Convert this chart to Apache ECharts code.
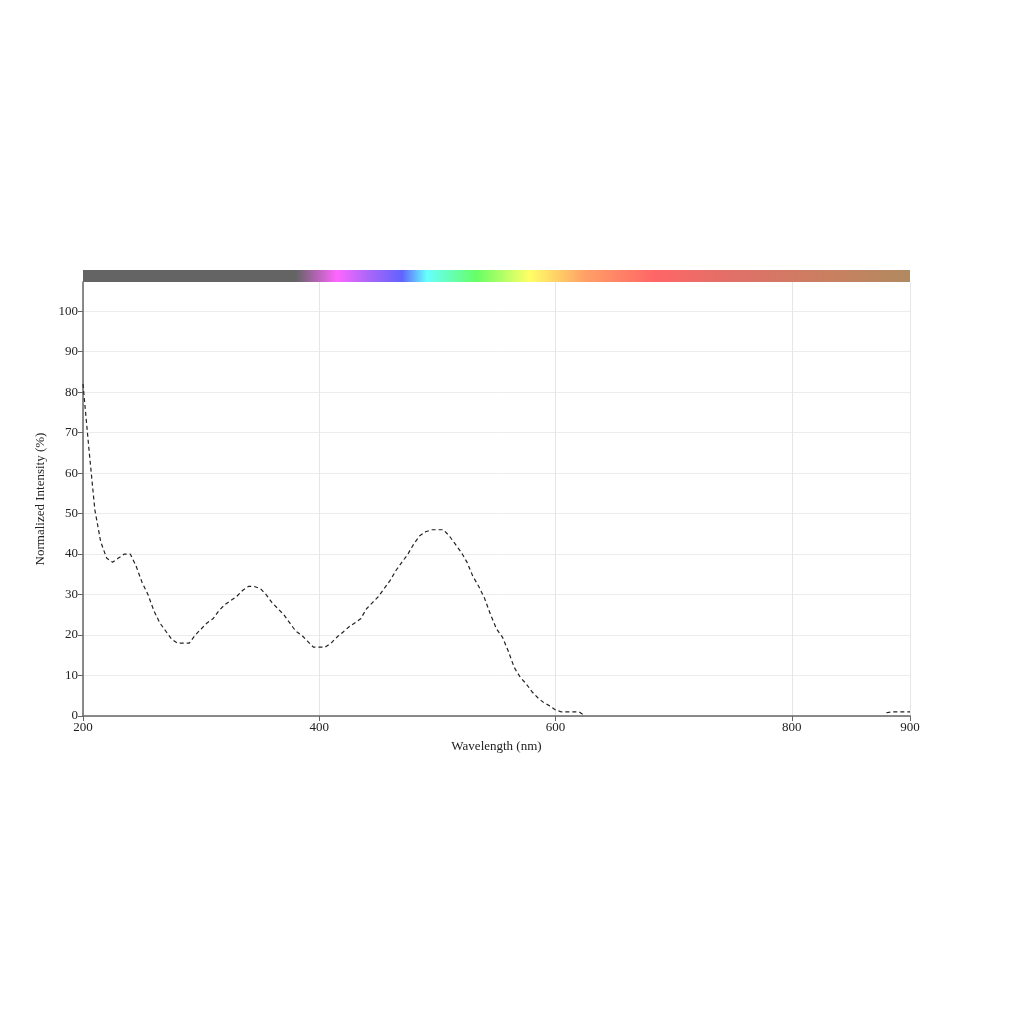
<!DOCTYPE html>
<html>
<head>
<meta charset="utf-8">
<script src="https://cdn.jsdelivr.net/npm/echarts@6/dist/echarts.min.js"></script>
<style>
html,body{margin:0;padding:0;background:#fff;}
#chart{width:1024px;height:1024px;}
</style>
</head>
<body>
<div id="chart"></div>
<script>
// Wavelength (nm) sampling
var wavelengths = [];
for (var w = 200; w <= 900; w += 5) wavelengths.push(w);

// Normalized intensity values (%), 200..625 nm every 5 nm
var intensityStart = [82, 66, 51, 43, 39, 38, 39, 40, 40, 37,
  33, 30, 26, 23, 21, 19, 18, 18, 18, 20,
  21.5, 23, 24, 26, 27.5, 28.5, 29.5, 31, 32, 32,
  31.5, 30, 28, 26.5, 25, 23, 21, 20, 18.5, 17,
  17, 17, 18, 19.5, 20.7, 22, 23, 24, 26.5, 28,
  29.5, 31.5, 33.5, 36, 38, 40, 42.5, 44.5, 45.5, 46,
  46, 46, 44.5, 42.5, 40.5, 38, 34.5, 32, 29, 25,
  21.5, 19.5, 16, 12, 9.6, 8, 6, 4.5, 3.3, 2.5,
  1.5, 1, 1, 1, 1, 0];
// 880..900 nm tail
var tailStartNm = 880;
var intensityTail = [0.8, 1, 1, 1, 1];

// Spectrum colour bar stops
var spectrumNm = [200, 380, 415, 440, 470, 491, 533, 578, 625, 683, 750, 835, 900];
var spectrumColors = ['#646464', '#646464', '#ff66ff', '#b066f8', '#6262ff', '#66ffff',
  '#66ff66', '#ffff66', '#ffa066', '#ff6666', '#e07068', '#c88060', '#b08a60'];

var xTicks = [200, 400, 600, 800, 900];

// build series data
var seriesData = [];
for (var i = 0; i < wavelengths.length; i++) {
  var nm = wavelengths[i];
  var v = null;
  if (i < intensityStart.length) v = intensityStart[i];
  else if (nm >= tailStartNm) v = intensityTail[(nm - tailStartNm) / 5];
  seriesData.push([nm, v]);
}

var stops = spectrumNm.map(function (nm, k) {
  return { offset: (nm - 200) / 700, color: spectrumColors[k] };
});

var font = 'Liberation Serif';
var chart = echarts.init(document.getElementById('chart'), null, { renderer: 'canvas' });
chart.setOption({
  backgroundColor: '#fff',
  animation: false,
  grid: [
    { left: 83, right: 114, top: 282, bottom: 308 },
    { left: 83, right: 114, top: 270, height: 12 }
  ],
  xAxis: [{
    type: 'value', gridIndex: 0, min: 200, max: 900, interval: 200,
    name: 'Wavelength (nm)', nameLocation: 'middle', nameGap: 24,
    nameTextStyle: { fontFamily: font, fontSize: 13, color: '#222' },
    axisLine: { lineStyle: { color: '#666', width: 1.5 } },
    axisTick: { show: true, length: 5, lineStyle: { color: '#666' } },
    axisLabel: { fontFamily: font, fontSize: 13, color: '#222', margin: 5,
      formatter: function (v) { return xTicks.indexOf(v) >= 0 ? String(v) : ''; } },
    splitLine: { show: true, lineStyle: { color: '#e6e6e6' } }
  }, {
    type: 'value', gridIndex: 1, min: 200, max: 900, show: false
  }],
  yAxis: [{
    type: 'value', gridIndex: 0, min: 0, max: 107.2, interval: 10,
    name: 'Normalized Intensity (%)', nameLocation: 'middle', nameGap: 36,
    nameTextStyle: { fontFamily: font, fontSize: 13, color: '#222' },
    axisLine: { show: true, lineStyle: { color: '#666', width: 1.5 } },
    axisTick: { show: true, length: 5, lineStyle: { color: '#666' },
      customValues: [0,10,20,30,40,50,60,70,80,90,100] },
    axisLabel: { fontFamily: font, fontSize: 13, color: '#222', margin: 5,
      formatter: function (v) { return (v % 10 === 0 && v <= 100) ? String(v) : ''; } },
    splitLine: { show: true, lineStyle: { color: '#ececec' } }
  }, {
    type: 'value', gridIndex: 1, min: 0, max: 1, show: false
  }],
  series: [{
    type: 'line', xAxisIndex: 0, yAxisIndex: 0,
    data: seriesData, showSymbol: false, connectNulls: false,
    lineStyle: { color: '#222', width: 1.2, type: [4, 3] }
  }, {
    type: 'custom', xAxisIndex: 1, yAxisIndex: 1,
    data: [[200, 900]],
    renderItem: function (params, api) {
      var p0 = api.coord([api.value(0), 1]);
      var p1 = api.coord([api.value(1), 0]);
      return {
        type: 'rect',
        shape: { x: p0[0], y: p0[1], width: p1[0] - p0[0], height: p1[1] - p0[1] },
        style: { fill: new echarts.graphic.LinearGradient(0, 0, 1, 0, stops) }
      };
    },
    silent: true
  }]
});
</script>
</body>
</html>
